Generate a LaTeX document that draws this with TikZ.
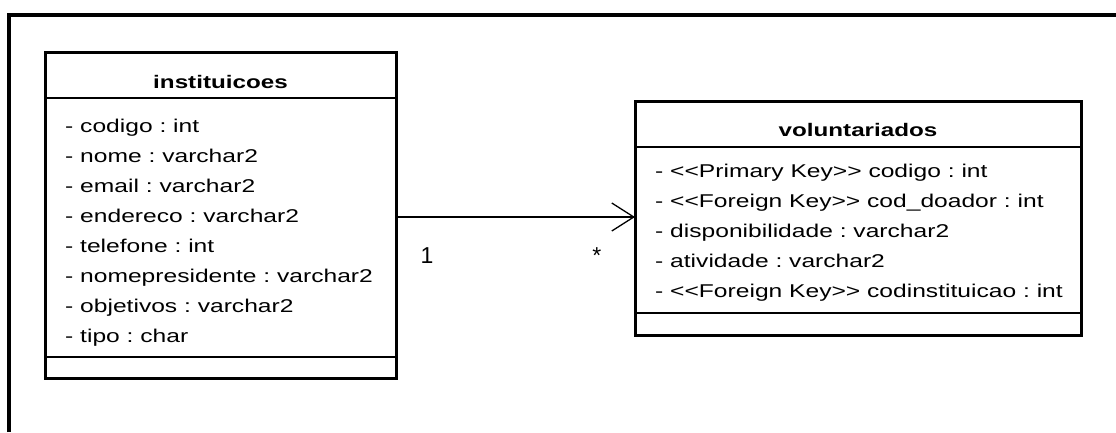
\documentclass[tikz,border=0pt]{standalone}
\usepackage{fontspec}
\newfontfamily\umlfont{Liberation Sans}[FakeStretch=1.33]
\newfontfamily\multfont{Liberation Sans}
\frenchspacing
\usetikzlibrary{arrows.meta,positioning,fit}

\begin{document}
\begin{tikzpicture}[
  x=1pt, y=-1pt,
  every node/.style={font=\umlfont\fontsize{18.5}{30}\selectfont},
  compart/.style={draw, line width=1.2pt, outer sep=0pt, inner sep=0pt},
  classhead/.style={compart, minimum height=46pt, text depth=0pt,
    font=\umlfont\bfseries\fontsize{18.2}{30}\selectfont},
  classattr/.style={compart},
  classops/.style={compart},
  attrlist/.style={align=left, anchor=north west, inner sep=0pt},
  classframe/.style={draw, line width=3pt, inner sep=0pt, outer sep=0pt},
  mult/.style={anchor=base, yshift=-46pt, font=\multfont\fontsize{23}{28}\selectfont},
  >={Straight Barb[length=22pt,width=28pt,line width=1.3pt]}
]
\useasboundingbox (0,0) rectangle (1116,432);

% cropped diagram frame (only top and left edges show)
\draw[line width=4pt] (9,432) -- (9,15) -- (1116,15);

% class instituicoes
\node[classhead, minimum width=351pt, text height=26pt] (inst) at (220.5,75) {instituicoes};
\node[classattr, minimum width=351pt, minimum height=259pt, below=0pt of inst] (inst_attr) {};
\node[classops, minimum width=351pt, minimum height=21pt, below=0pt of inst_attr] (inst_ops) {};
\node[classframe, fit=(inst)(inst_ops)] (inst_box) {};
\node[attrlist] (inst_list) at ([xshift=20pt, yshift=-21pt]inst_attr.north west)
  {- codigo : int\\
   - nome : varchar2\\
   - email : varchar2\\
   - endereco : varchar2\\
   - telefone : int\\
   - nomepresidente : varchar2\\
   - objetivos : varchar2\\
   - tipo : char};

% class voluntariados
\node[classhead, minimum width=446pt, text height=24pt] (volu) at (858,124) {voluntariados};
\node[classattr, minimum width=446pt, minimum height=166pt, below=0pt of volu] (volu_attr) {};
\node[classops, minimum width=446pt, minimum height=22pt, below=0pt of volu_attr] (volu_ops) {};
\node[classframe, fit=(volu)(volu_ops)] (volu_box) {};
\node[attrlist] (volu_list) at ([xshift=20pt, yshift=-16.5pt]volu_attr.north west)
  {- <<Primary Key>> codigo : int\\
   - <<Foreign Key>> cod\_doador : int\\
   - disponibilidade : varchar2\\
   - atividade : varchar2\\
   - <<Foreign Key>> codinstituicao : int};

% association 1 -> *
\coordinate (assoc) at (0,217);
\draw[->, line width=1.3pt] (inst_box.east |- assoc)
  -- node[mult, pos=0.13] {1} node[mult, pos=0.84] {*} (volu_box.west |- assoc);
\end{tikzpicture}
\end{document}
